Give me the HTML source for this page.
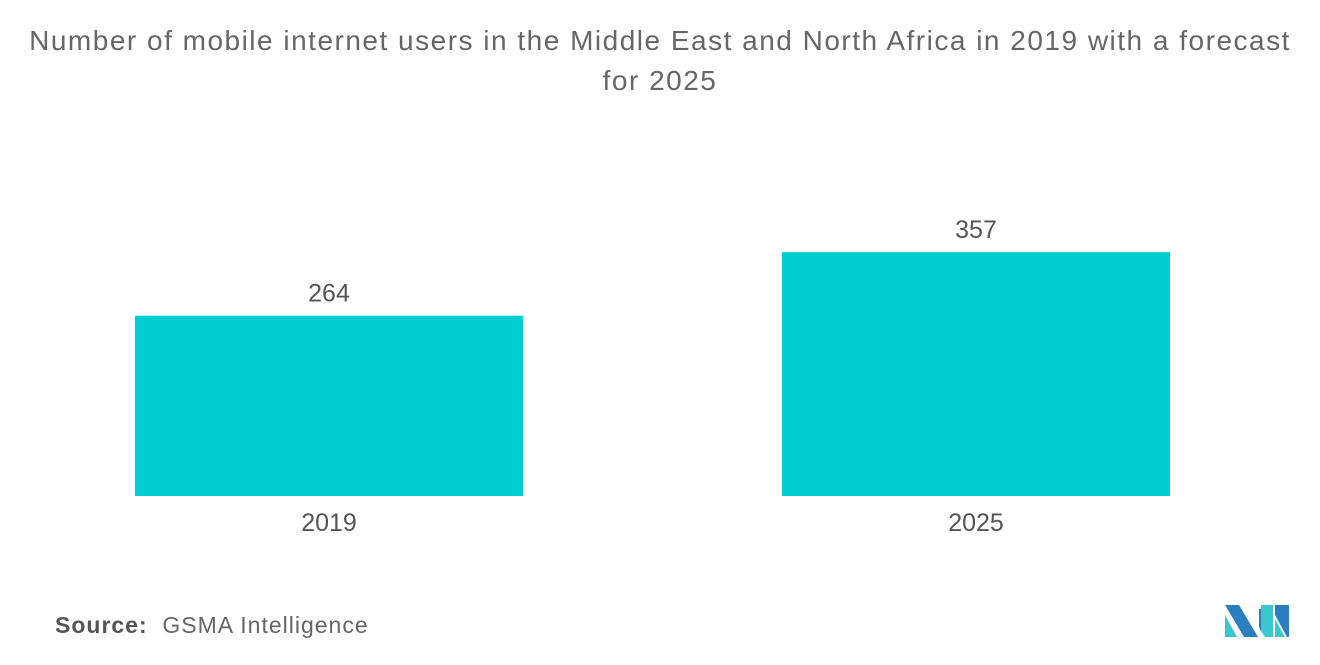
<!DOCTYPE html>
<html><head><meta charset="utf-8"><style>
body{margin:0;width:1320px;height:665px;background:#fff;font-family:"Liberation Sans",sans-serif;overflow:hidden;position:relative}
.title{position:absolute;left:0;width:1320px;top:21px;text-align:center;color:#666;font-size:28px;line-height:40px;letter-spacing:1.5px}
.src{position:absolute;left:55px;top:612px;font-size:23px;color:#555;letter-spacing:1px}
</style></head><body>
<div class="title">Number of mobile internet users in the Middle East and North Africa in 2019 with a forecast<br>for 2025</div>
<svg id="chart" width="1320" height="665" style="position:absolute;left:0;top:0"></svg>
<div class="src"><b style="color:#555">Source:</b>&nbsp; <span style="color:#666">GSMA Intelligence</span></div>
<svg style="position:absolute;left:1225px;top:605px" width="65" height="33">
<polygon points="0,0 14,0 33,32 19,32" fill="#2b7fc1"/>
<polygon points="0,10 12,32 0,32" fill="#3cc7cc"/>
<polygon points="36,0 48,0 48,32 40,32 36,26" fill="#3cc7cc"/>
<polygon points="34,4 36,4 36,26 34,22" fill="#2b7fc1"/>
<polygon points="50,0 64,0 64,32 62,32 50,10" fill="#2b7fc1"/>
<polygon points="50,14 60,32 50,32" fill="#3cc7cc"/>
</svg>
<script>
const categories=["2019","2025"];
const values=[264,357];
const svg=document.getElementById('chart');
const NS='http://www.w3.org/2000/svg';
const base=496, scale=0.683, x0=135, step=647, bw=388;
function y(v){return base-v*scale;}
function x(i){return x0+i*step;}
categories.forEach((c,i)=>{
  const r=document.createElementNS(NS,'rect');
  r.setAttribute('x',x(i));r.setAttribute('y',y(values[i]));
  r.setAttribute('width',bw);r.setAttribute('height',base-y(values[i]));
  r.setAttribute('fill','#00ced1');
  
  
  svg.appendChild(r);
  const t=document.createElementNS(NS,'text');
  t.setAttribute('x',x(i)+bw/2);t.setAttribute('y',y(values[i])-14);
  t.setAttribute('text-anchor','middle');t.setAttribute('font-size','25');t.setAttribute('fill','#555');
  t.textContent=values[i];
  
  
  svg.appendChild(t);
  const l=document.createElementNS(NS,'text');
  l.setAttribute('x',x(i)+bw/2);l.setAttribute('y',531);
  l.setAttribute('text-anchor','middle');l.setAttribute('font-size','25');l.setAttribute('fill','#555');
  l.textContent=c;
  
  
  svg.appendChild(l);
});
</script>
</body></html>
